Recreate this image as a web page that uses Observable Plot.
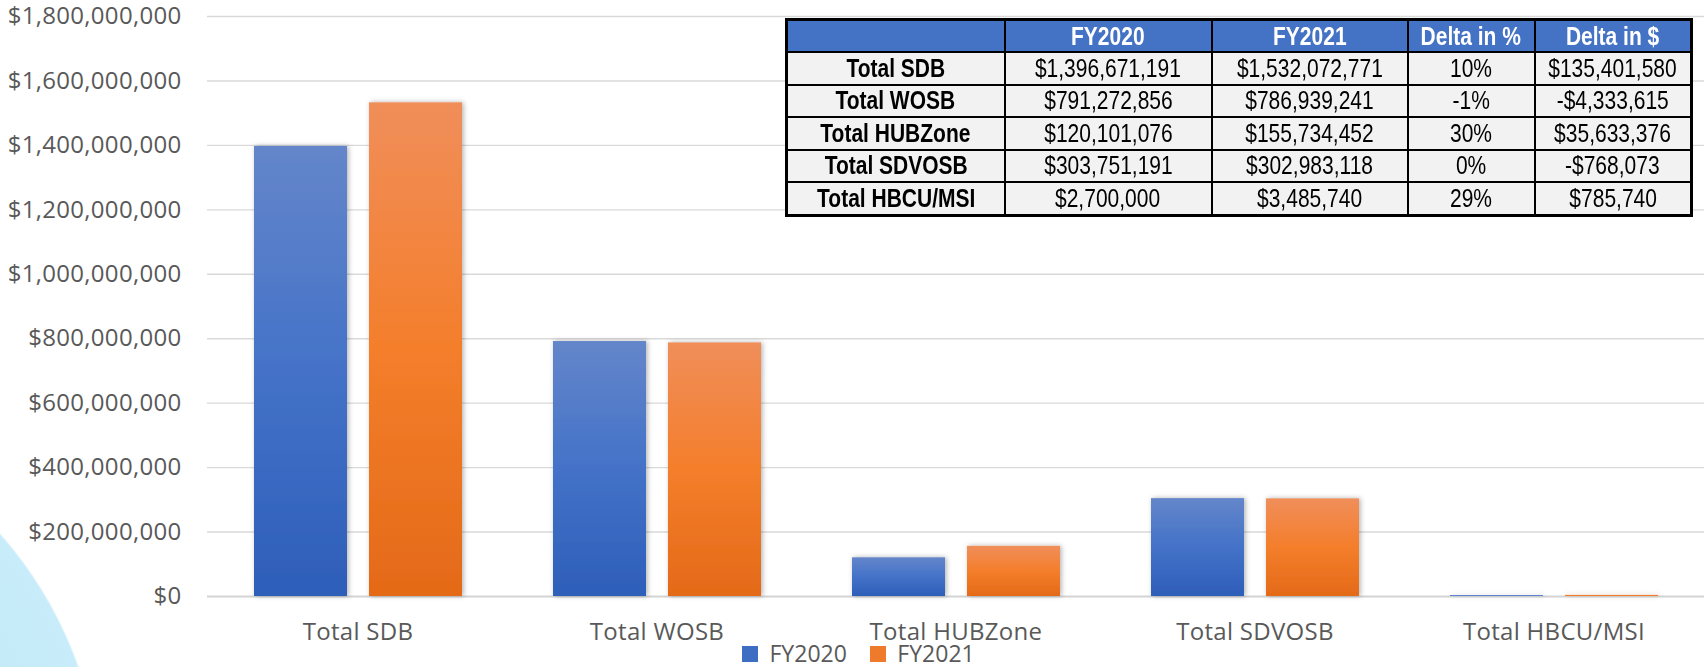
<!DOCTYPE html>
<html>
<head>
<meta charset="utf-8">
<script src="https://cdn.jsdelivr.net/npm/d3@7"></script>
<script src="https://cdn.jsdelivr.net/npm/@observablehq/plot@0.6"></script>
<style>
  html, body { margin: 0; padding: 0; overflow: hidden; }
  body {
    width: 1704px; height: 667px;
    background: radial-gradient(circle at -300px 800px, #b3e3f6 0, #c8ecf9 400px, rgba(255,255,255,0) 402px), #ffffff;
  }
  #wrap { position: relative; width: 1704px; height: 667px; }
  #legend { margin-top: -8px; padding-left: 742px; height: 23px; }
  #tbl {
    position: absolute; left: 785px; top: 18px;
    border-collapse: collapse; table-layout: fixed;
    border: 3px solid #000; color: #000;
  }
  #tbl td, #tbl th {
    border: 2px solid #000; text-align: center; padding: 0;
    font-size: 25px; white-space: nowrap; overflow: hidden;
  }
  #tbl th { background: #4472c4; color: #fff; font-weight: bold; height: 30px; }
  #tbl td { background: #f2f2f2; height: 30.5px; }
  #tbl td.lab { font-weight: bold; }
  #tbl span { display: inline-block; }
</style>
</head>
<body>
<div id="wrap">
  <div id="chart"></div>
  <div id="legend"></div>
  <table id="tbl"></table>
</div>
<script>
// ---- data ----
const categories = ["Total SDB", "Total WOSB", "Total HUBZone", "Total SDVOSB", "Total HBCU/MSI"];
const seriesNames = ["FY2020", "FY2021"];
const fy2020 = [1396671191, 791272856, 120101076, 303751191, 2700000];
const fy2021 = [1532072771, 786939241, 155734452, 302983118, 3485740];
const deltaPct = ["10%", "-1%", "30%", "0%", "29%"];
const deltaDollar = ["$135,401,580", "-$4,333,615", "$35,633,376", "-$768,073", "$785,740"];
const tableHeader = ["", "FY2020", "FY2021", "Delta in %", "Delta in $"];
const yTicks = [0, 200000000, 400000000, 600000000, 800000000, 1000000000, 1200000000, 1400000000, 1600000000, 1800000000];

const rows2020 = categories.map((c, i) => ({category: c, value: fy2020[i]}));
const rows2021 = categories.map((c, i) => ({category: c, value: fy2021[i]}));
const money = v => "$" + d3.format(",")(v);

const chart = Plot.plot({
  width: 1704,
  height: 645,
  marginLeft: 207,
  marginRight: 0,
  marginTop: 16,
  marginBottom: 49,
  style: {background: "transparent", fontFamily: "'Open Sans', sans-serif", fontSize: "24px", color: "#595959", letterSpacing: "0.3px", overflow: "visible"},
  x: {domain: categories, padding: 0, tickSize: 0, tickPadding: 26, label: null},
  y: {domain: [0, 1800000000], ticks: yTicks, tickFormat: money, tickSize: 0, tickPadding: 26, label: null},
  marks: [
    Plot.ruleY(yTicks.slice(1), {stroke: "#d9d9d9", strokeWidth: 1.4}),
    Plot.ruleY([0], {stroke: "#d4d4d4", strokeWidth: 2}),
    Plot.barY(rows2020, {x: "category", y: "value", fill: "url(#gBlue)", insetLeft: 46, insetRight: 160}),
    Plot.barY(rows2021, {x: "category", y: "value", fill: "url(#gOrange)", insetLeft: 161, insetRight: 45})
  ]
});

// gradients + soft shadow for the bars
const svg = d3.select(chart);
const defs = svg.insert("defs", ":first-child");
function grad(id, stops) {
  const g = defs.append("linearGradient").attr("id", id).attr("x1", 0).attr("y1", 0).attr("x2", 0).attr("y2", 1);
  stops.forEach(([o, c]) => g.append("stop").attr("offset", o).attr("stop-color", c));
}
grad("gBlue", [[0, "#6486ca"], [0.5, "#4472c8"], [1, "#2d5eb9"]]);
grad("gOrange", [[0, "#f08e5a"], [0.5, "#f47e2b"], [1, "#e46a18"]]);
const f = defs.append("filter").attr("id", "shadow").attr("x", "-20%").attr("y", "-5%").attr("width", "140%").attr("height", "110%");
f.append("feDropShadow").attr("dx", 1.5).attr("dy", 0).attr("stdDeviation", 2.5).attr("flood-color", "#000").attr("flood-opacity", 0.3);
svg.selectAll("g[aria-label=bar]").attr("filter", "url(#shadow)");

document.getElementById("chart").appendChild(chart);

// legend
const legend = Plot.legend({
  color: {type: "ordinal", domain: seriesNames, range: ["#3f6dc4", "#ef7a2b"]},
  swatchSize: 16,
  style: {fontFamily: "'Open Sans', sans-serif", fontSize: "23px", color: "#595959", lineHeight: "23px", margin: "0"}
});
document.getElementById("legend").appendChild(legend);

// table
function hasFont(name) {
  const c = document.createElement("canvas").getContext("2d");
  const s = "mmmWWWiii$1,396";
  c.font = "40px monospace";
  const a = c.measureText(s).width;
  c.font = `40px '${name}', monospace`;
  return c.measureText(s).width !== a;
}
const narrow = hasFont("Liberation Sans Narrow") ? "'Liberation Sans Narrow'" : (hasFont("Arial Narrow") ? "'Arial Narrow'" : null);
const tableFont = narrow ? narrow + ", sans-serif" : "'Liberation Sans', Arial, sans-serif";
const squeeze = narrow ? "none" : "scaleX(0.84)";
const colW = [218, 207, 196, 127, 157];

const tbl = d3.select("#tbl").style("font-family", tableFont);
const cg = tbl.append("colgroup");
colW.forEach(w => cg.append("col").style("width", w + "px"));
tbl.append("tr").selectAll("th").data(tableHeader).join("th")
  .append("span").style("transform", squeeze).text(d => d);
categories.forEach((c, i) => {
  const cells = [c, money(fy2020[i]), money(fy2021[i]), deltaPct[i], deltaDollar[i]];
  tbl.append("tr").selectAll("td").data(cells).join("td")
    .attr("class", (d, j) => j === 0 ? "lab" : null)
    .append("span").style("transform", squeeze).text(d => d);
});
</script>
</body>
</html>
